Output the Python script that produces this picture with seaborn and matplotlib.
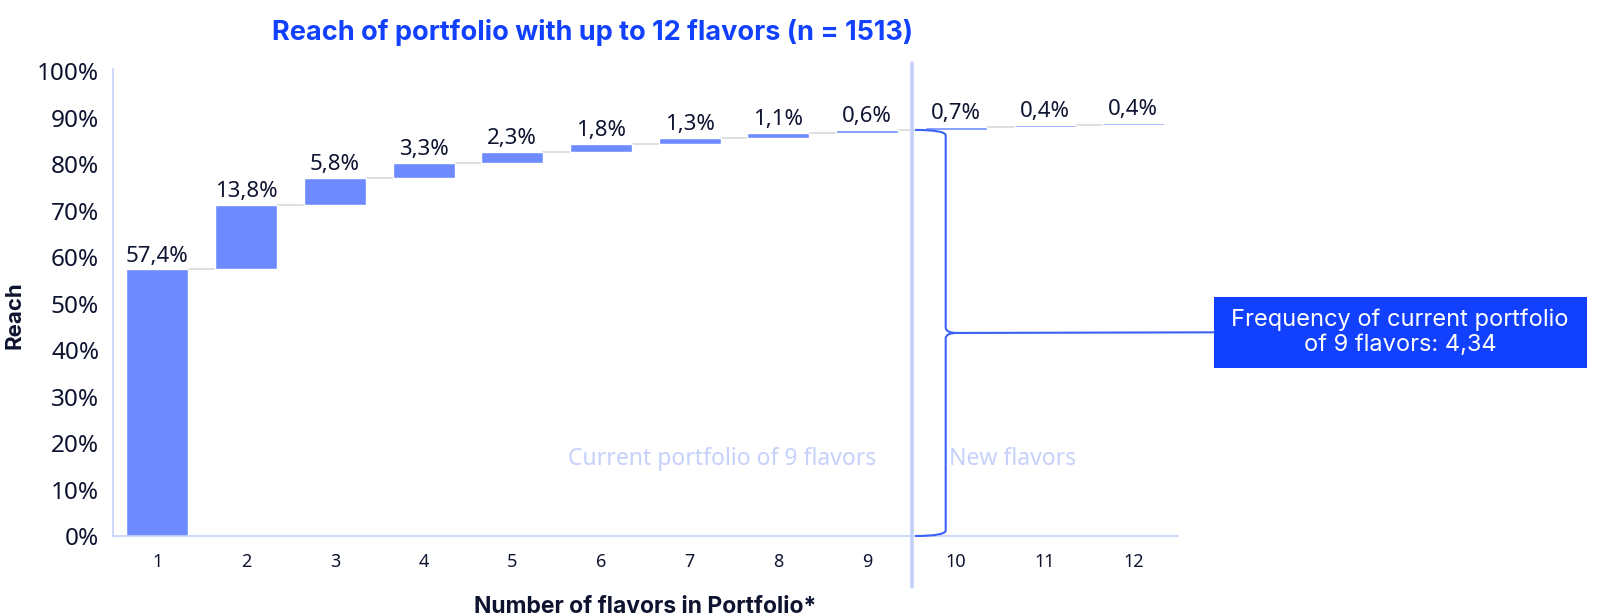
import numpy as np
import pandas as pd
import matplotlib.pyplot as plt
import seaborn as sns
from matplotlib.path import Path
from matplotlib.patches import PathPatch, ConnectionPatch, Rectangle

# data
flavors = ["1", "2", "3", "4", "5", "6", "7", "8", "9", "10", "11", "12"]
gains = [57.4, 13.8, 5.8, 3.3, 2.3, 1.8, 1.3, 1.1, 0.6, 0.7, 0.4, 0.4]
value_labels = ["57,4%", "13,8%", "5,8%", "3,3%", "2,3%", "1,8%", "1,3%", "1,1%", "0,6%", "0,7%", "0,4%", "0,4%"]
yticks = [0, 0.1, 0.2, 0.3, 0.4, 0.5, 0.6, 0.7, 0.8, 0.9, 1.0]
ytick_labels = ["0%", "10%", "20%", "30%", "40%", "50%", "60%", "70%", "80%", "90%", "100%"]
current_n = 9
frequency = "4,34"

inc = np.array(gains) / 100
top = np.cumsum(inc)
bottom = top - inc
df = pd.DataFrame({"flavors": flavors, "gain": inc})

sns.set_theme(style="white")
plt.rcParams["font.family"] = ["Noto Sans", "DejaVu Sans"]

BAR = "#6d8bff"
AXIS = "#c3d1fb"
DARK = "#0e1430"
BLUE = "#1140ff"

fig = plt.figure(figsize=(16.01, 6.16), dpi=100)
ax = fig.add_axes([0.0706, 0.1299, 0.665, 0.758])

sns.barplot(data=df, x="flavors", y="gain", bottom=bottom, color=BAR,
            saturation=1, width=0.7, ax=ax)
cont = ax.containers[0]
ax.bar_label(cont, labels=value_labels, padding=2, fontsize=16, color=DARK)

# connector lines between bars
for i in range(len(flavors) - 1):
    ax.plot([i + 0.35, i + 0.65], [top[i], top[i]], color="#d9d9d9", lw=1.2, zorder=0)

ax.set_xlim(-0.5, len(flavors) - 0.5)
ax.set_ylim(0, 1.005)
ax.set_yticks(yticks)
ax.set_yticklabels(ytick_labels, fontsize=17.5, color=DARK)
ax.tick_params(axis="x", labelsize=13, colors=DARK, pad=6)
ax.tick_params(axis="y", pad=4)
for s in ["top", "right"]:
    ax.spines[s].set_visible(False)
for s in ["left", "bottom"]:
    ax.spines[s].set_color(AXIS)
    ax.spines[s].set_linewidth(1.2)

ax.set_xlabel("Number of flavors in Portfolio*", fontsize=16.5, fontweight="bold",
              color=DARK, family="Inter", labelpad=18)
ax.set_ylabel("Reach", fontsize=16, fontweight="bold", color=DARK, family="Inter")
ax.yaxis.set_label_coords(-0.083, 0.473)

fig.text(0.37, 0.948, "Reach of portfolio with up to 12 flavors (n = 1513)", ha="center", va="center",
         fontsize=19.5, fontweight="bold", color=BLUE, family="Inter")

# separator between current and new flavors
sep = current_n - 0.5
ax.plot([sep, sep], [-0.11, 1.017], color=AXIS, lw=2.6, clip_on=False, zorder=3)
ax.text(sep - 0.4, 0.165, f"Current portfolio of {current_n} flavors", ha="right", va="center",
        fontsize=16.5, color="#c5d1fb")
ax.text(sep + 0.42, 0.165, "New flavors", ha="left", va="center", fontsize=16.5, color="#c5d1fb")

# brace spanning current portfolio reach
y_top = top[current_n - 1]
y_mid = y_top / 2
x0, xv, xt = sep + 0.04, sep + 0.385, sep + 0.51
r = 0.012
verts = [(x0, y_top), (xv, y_top), (xv, y_top - r),
         (xv, y_mid + r), (xv, y_mid), (xt, y_mid),
         (xv, y_mid), (xv, y_mid - r),
         (xv, r), (xv, 0), (x0, 0)]
codes = [Path.MOVETO, Path.CURVE3, Path.CURVE3,
         Path.LINETO, Path.CURVE3, Path.CURVE3,
         Path.CURVE3, Path.CURVE3,
         Path.LINETO, Path.CURVE3, Path.CURVE3]
ax.add_patch(PathPatch(Path(verts, codes), fill=False, edgecolor="#3a62f5", lw=1.5,
                       clip_on=False, zorder=4))

# callout box
bx, by, bw, bh = 0.758, 0.403, 0.233, 0.115
fig.add_artist(Rectangle((bx, by), bw, bh, transform=fig.transFigure, facecolor=BLUE,
                         edgecolor="none"))
fig.text(bx + bw / 2, by + bh / 2, f"Frequency of current portfolio\nof {current_n} flavors: {frequency}",
         ha="center", va="center", fontsize=17, color="white", family="Inter", linespacing=1.2)
fig.add_artist(ConnectionPatch((xt, y_mid), (bx, by + bh / 2), coordsA=ax.transData,
                               coordsB=fig.transFigure, color="#3a62f5", lw=1.5))

fig.savefig("out.png", dpi=100)
